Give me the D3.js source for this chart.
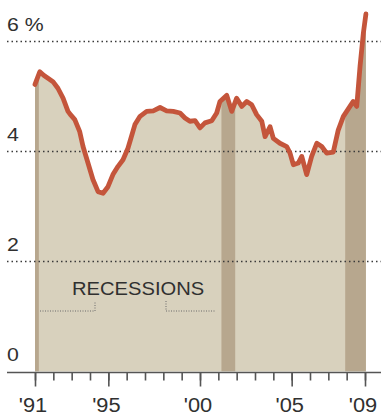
<!DOCTYPE html>
<html>
<head>
<meta charset="utf-8">
<script src="https://cdn.jsdelivr.net/npm/d3@7"></script>
<style>
  html, body { margin: 0; padding: 0; background: #fff; }
  svg { display: block; }
  text { font-family: "Liberation Sans", Arial, Helvetica, sans-serif; fill: #303030; }
</style>
</head>
<body>
<svg id="chart" width="381" height="417"></svg>
<script>
// Rate, in percent, sampled through time (fractional years)
const years = [
  1991.00, 1991.26, 1991.49, 1991.71, 1991.98, 1992.25, 1992.53, 1992.80, 1992.96,
  1993.17, 1993.44, 1993.62, 1993.89, 1994.16, 1994.44, 1994.71, 1994.98, 1995.25,
  1995.53, 1995.80, 1996.07, 1996.24, 1996.45, 1996.73, 1997.09, 1997.45, 1997.82,
  1998.18, 1998.54, 1998.91, 1999.18, 1999.45, 1999.73, 2000.00, 2000.27, 2000.64,
  2000.91, 2001.09, 2001.46, 2001.73, 2002.00, 2002.28, 2002.55, 2002.82, 2003.09,
  2003.37, 2003.55, 2003.82, 2004.00, 2004.36, 2004.73, 2004.91, 2005.09, 2005.36,
  2005.55, 2005.82, 2006.09, 2006.37, 2006.64, 2006.91, 2007.27, 2007.54, 2007.82,
  2008.18, 2008.36, 2008.55, 2008.73, 2008.91, 2009.05
];
const rates = [
  5.22, 5.45, 5.38, 5.33, 5.27, 5.15, 4.97, 4.73, 4.66,
  4.58, 4.36, 4.09, 3.79, 3.49, 3.27, 3.24, 3.36, 3.58,
  3.73, 3.85, 4.06, 4.25, 4.49, 4.64, 4.73, 4.74, 4.80,
  4.74, 4.73, 4.70, 4.61, 4.55, 4.56, 4.43, 4.52, 4.56,
  4.70, 4.91, 5.02, 4.73, 4.97, 4.82, 4.91, 4.85, 4.67,
  4.55, 4.27, 4.45, 4.24, 4.15, 4.09, 3.97, 3.76, 3.79,
  3.91, 3.58, 3.91, 4.15, 4.09, 3.97, 3.99, 4.39, 4.64,
  4.82, 4.91, 4.82, 5.55, 6.15, 6.50
];

// Recession periods (start, end) in fractional years
const recessionStarts = [1990.50, 2001.17, 2007.92];
const recessionEnds   = [1991.21, 2001.92, 2009.60];

// Axis ticks and labels
const gridValues = [2, 4, 6];
const yLabelValues = [0, 2, 4, 6];
const yLabels = ["0", "2", "4", "6 %"];
const yearTicks = d3.range(1991, 2010);
const labelYears = [1991, 1995, 2000, 2005, 2009];
const yearLabels = ["'91", "'95", "'00", "'05", "'09"];

const data = years.map((t, i) => ({ t, v: rates[i] }));
const recessions = recessionStarts.map((s, i) => ({ s, e: recessionEnds[i] }));

const svg = d3.select("#chart");
const W = 381;
const left = 7;
const WIDEN = "scale(1.12,1)";   // slightly extended lettering

const x = d3.scaleLinear().domain([1991, 2009]).range([35, 365]);
const y = d3.scaleLinear().domain([0, 6]).range([371.5, 41.5]);

const COL_AREA = "#d8d1bd";
const COL_BAND = "#b7a78e";
const COL_LINE = "#c4553b";

// Filled area under the series
const area = d3.area().x(d => x(d.t)).y0(y(0)).y1(d => y(d.v));
const line = d3.line().x(d => x(d.t)).y(d => y(d.v));

svg.append("defs").append("clipPath").attr("id", "under")
  .append("path").attr("d", area(data));

svg.append("path")
  .attr("d", area(data))
  .attr("fill", COL_AREA);

// Recession bands, only shown under the curve
svg.append("g").attr("clip-path", "url(#under)")
  .selectAll("rect").data(recessions).join("rect")
  .attr("x", d => x(d.s))
  .attr("width", d => x(d.e) - x(d.s))
  .attr("y", 0)
  .attr("height", y(0))
  .attr("fill", COL_BAND);

// Dotted gridlines
svg.append("g").selectAll("line").data(gridValues).join("line")
  .attr("x1", left).attr("x2", W)
  .attr("y1", d => y(d)).attr("y2", d => y(d))
  .attr("stroke", "#3a3a3a")
  .attr("stroke-width", 1.3)
  .attr("stroke-dasharray", "1.5,3");

// Y labels sit above their gridlines
svg.append("g").selectAll("text").data(yLabelValues).join("text")
  .attr("transform", d => `translate(${left},${y(d) - 11}) ${WIDEN}`)
  .attr("font-size", 19)
  .text((d, i) => yLabels[i]);

// "Recessions" key with dotted brackets
const keyY = 311;
const dotted = { stroke: "#6a6a6a", "stroke-width": 1, "stroke-dasharray": "1,1.5" };
const key = svg.append("g");
[[40, keyY, 95, keyY], [95, keyY, 95, 301], [166, 301, 166, keyY], [166, keyY, 216, keyY]]
  .forEach(([x1, y1, x2, y2]) => {
    const l = key.append("line").attr("x1", x1).attr("y1", y1).attr("x2", x2).attr("y2", y2);
    Object.entries(dotted).forEach(([k, v]) => l.attr(k, v));
  });
key.append("text")
  .attr("transform", `translate(72,295) ${WIDEN}`)
  .attr("font-size", 18)
  .text("RECESSIONS");

// Series line
svg.append("path")
  .attr("d", line(data))
  .attr("fill", "none")
  .attr("stroke", COL_LINE)
  .attr("stroke-width", 4.8)
  .attr("stroke-linejoin", "round")
  .attr("stroke-linecap", "round");

// Baseline
svg.append("line")
  .attr("x1", left).attr("x2", W)
  .attr("y1", 372.5).attr("y2", 372.5)
  .attr("stroke", "#555").attr("stroke-width", 1.6);

// Minor year ticks
const minorAxis = d3.axisBottom(x).tickValues(yearTicks).tickSize(8).tickFormat("");
const gMinor = svg.append("g").attr("transform", "translate(0,372.5)").call(minorAxis);
gMinor.select(".domain").remove();
gMinor.selectAll("line").attr("stroke", "#555").attr("stroke-width", 1.6);

// Major year ticks with labels
const majorAxis = d3.axisBottom(x).tickValues(labelYears).tickSize(14).tickPadding(12)
  .tickFormat((d) => yearLabels[labelYears.indexOf(d)]);
const gMajor = svg.append("g").attr("transform", "translate(0,372.5)").call(majorAxis);
gMajor.select(".domain").remove();
gMajor.selectAll("line").attr("stroke", "#555").attr("stroke-width", 1.6);
gMajor.selectAll("text")
  .attr("font-size", 19.5)
  .attr("font-family", "'Liberation Sans', Arial, Helvetica, sans-serif")
  .attr("fill", "#303030")
  .attr("dx", -2.2)
  .attr("transform", WIDEN);
</script>
</body>
</html>
